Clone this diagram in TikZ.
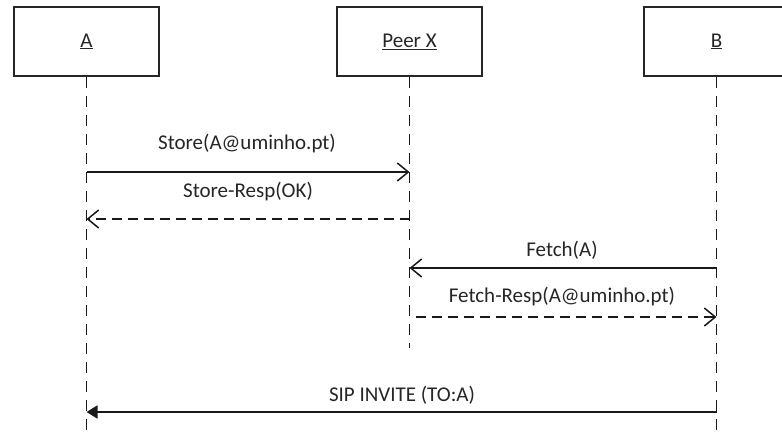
\documentclass[tikz,border=0pt]{standalone}
\usepackage{fontspec}
\setmainfont{Carlito}
\usetikzlibrary{arrows.meta}
\begin{document}
\begin{tikzpicture}[x=1pt,y=-1pt,
  every node/.style={font=\fontsize{21}{25}\selectfont, text=black!85},
  actor/.style={draw=black!85, line width=1.8pt, minimum width=145pt, minimum height=69pt, inner sep=0pt},
  lifeline/.style={draw=black!90, line width=1.5pt, dash pattern=on 11pt off 8pt},
  msg/.style={draw=black!90, line width=1.5pt, -{Straight Barb[length=11pt,width=18pt,line width=1.5pt]}},
  reply/.style={msg, dash pattern=on 10pt off 6pt},
  call/.style={draw=black!90, line width=1.8pt, -{Triangle[length=11pt,width=13pt]}},
  lbl/.style={inner sep=0pt}
]
\useasboundingbox[fill=white] (0,0) rectangle (782,437);

% participants
\node[actor] (A) at (86.5,41.5) {\underline{A}};
\node[actor] (X) at (409.5,41.5) {\underline{Peer X}};
\node[actor] (B) at (716.5,41.5) {\underline{B}};

% lifeline ends
\coordinate (Aend) at (86.5,437);
\coordinate (Xend) at (409.5,348);
\coordinate (Bend) at (716.5,437);

\draw[lifeline] (A.south) -- (Aend);
\draw[lifeline] (X.south) -- (Xend);
\draw[lifeline] (B.south) -- (Bend);

% message anchors on the lifelines
\coordinate (a1) at (86.5,172);  \coordinate (x1) at (409.5,172);
\coordinate (a2) at (86.5,219);  \coordinate (x2) at (409.5,219);
\coordinate (x3) at (409.5,268); \coordinate (b3) at (716.5,268);
\coordinate (x4) at (416,317);   \coordinate (b4) at (716.5,317);
\coordinate (a5) at (86.5,412);  \coordinate (b5) at (716.5,412);

% messages
\draw[msg] (a1) -- (x1);
\node[lbl] (l1) at (247,144) {Store(A@uminho.pt)};

\draw[reply] (x2) -- (a2);
\node[lbl] (l2) at (248,192) {Store-Resp(OK)};

\draw[msg] (b3) -- (x3);
\node[lbl] (l3) at (562,250) {Fetch(A)};

\draw[reply] (x4) -- (b4);
\node[lbl] (l4) at (562,297) {Fetch-Resp(A@uminho.pt)};

\draw[call] (b5) -- (a5);
\node[lbl] (l5) at (402,395) {SIP INVITE (TO:A)};
\end{tikzpicture}
\end{document}
